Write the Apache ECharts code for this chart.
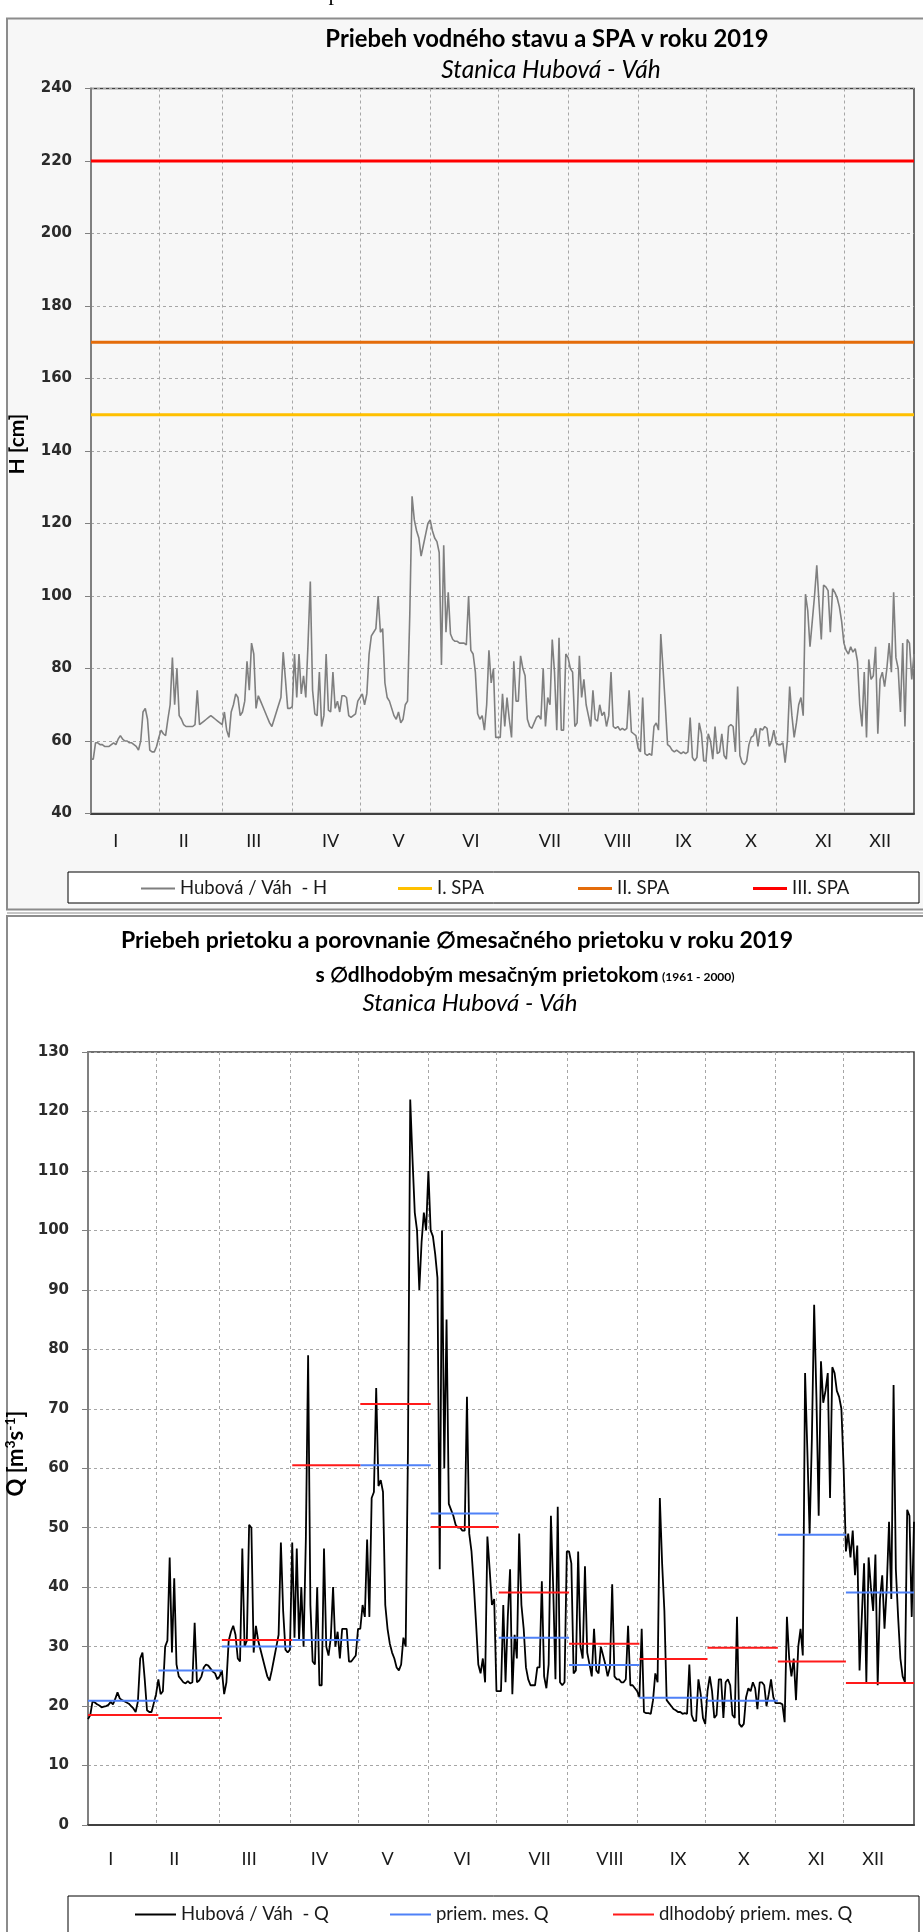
<!DOCTYPE html>
<html lang="sk">
<head>
<meta charset="utf-8" />
<title>Hubová - Váh 2019</title>
<script src="https://cdn.jsdelivr.net/npm/echarts@6/dist/echarts.min.js"></script>
<style>
  * { margin: 0; padding: 0; }
  html, body { width: 923px; height: 1932px; background: #fff; }
  #main { width: 923px; height: 1932px; }
</style>
</head>
<body>
<div id="main"></div>
<script>
// months and their lengths (2019)
const romans = ['I', 'II', 'III', 'IV', 'V', 'VI', 'VII', 'VIII', 'IX', 'X', 'XI', 'XII'];
const monthDays = [31, 28, 31, 30, 31, 30, 31, 31, 30, 31, 30, 31];

// vodný stav H [cm], denné hodnoty po mesiacoch
const hI = [55, 55, 59.5, 59.5, 59, 59, 58.5, 58.5, 58.5, 59, 59.5, 59, 60.5, 61.5, 60.5, 60, 60, 59.5, 59.5, 59, 58.5, 57.5, 60, 68, 69, 66, 57.5, 57, 57, 58.5, 61];
const hII = [63, 62, 61.5, 66, 70, 83, 70, 80, 67, 66, 64.5, 64, 64, 64, 64, 64.5, 74, 64.5, 65, 65.5, 66, 66.5, 67, 66.5, 66, 65.5, 65, 64.5];
const hIII = [68, 63, 61, 68, 70, 73, 72, 67, 68, 71, 82, 74, 87, 84, 69, 72.5, 71, 69.5, 68, 66.5, 65, 64, 66, 68, 70, 72, 84.5, 77, 69, 69, 69.5];
const hIV = [84, 72, 84, 73, 78, 72, 87, 104, 74, 67.5, 67, 79, 64, 67, 84, 68.5, 68, 79, 69, 71, 68, 72.5, 72.5, 72, 67, 66.5, 67, 67.5, 71, 72];
const hV = [73, 70, 73, 84, 89, 90, 91, 100, 90, 91, 76, 72, 71, 69, 67, 66, 68, 65, 66, 70, 71, 95, 127.5, 121, 118, 116, 111, 114, 117, 120, 121];
const hVI = [118, 116, 115, 112, 81, 114, 90, 101, 89.5, 88, 87.5, 87.5, 87, 87, 87, 86.5, 100, 85, 84, 79, 67.5, 66, 67, 63, 70, 85, 76, 80, 61, 61];
const hVII = [61, 73, 64, 72, 66, 61, 82, 71, 71, 83.5, 80, 78, 66, 64, 63.5, 65, 66.5, 67, 66, 80, 64, 72, 70, 88, 79, 63, 88.5, 63, 63, 84, 83];
const hVIII = [80, 79, 64, 65, 83.5, 72, 77, 70, 67, 64, 74, 66, 65.5, 70, 67, 68, 64, 67, 79, 64, 63.5, 64, 63, 63.5, 63, 63.5, 74, 62.5, 62, 61.5, 58];
const hIX = [57, 72, 56.5, 56, 56.5, 56, 64, 65, 63, 89.5, 80, 70, 59, 58.5, 57.5, 57, 57.5, 57, 56.5, 57, 56.5, 57, 66.5, 55.5, 54.5, 55.5, 65, 62, 54.5, 54.5];
const hX = [62, 60, 55, 64, 56.5, 57, 62, 56, 55, 64, 64.5, 64, 57, 75, 56, 54, 53.5, 54.5, 59, 61, 61.5, 63.5, 58.5, 63.5, 63, 64, 63.5, 58.5, 60, 63, 59.5];
const hXI = [59, 59, 59.5, 54, 60, 75, 67, 61, 65, 70, 72, 67, 100.5, 96, 86, 93, 100, 108.5, 98, 88, 103, 102.5, 101.5, 90, 102, 101, 99.5, 97, 93, 87];
const hXII = [85, 84, 86, 84.5, 85.5, 82, 70, 64, 79, 61, 82.5, 77, 78, 86, 62, 77, 79, 75, 80, 87, 79, 101, 83, 80, 68, 87, 64, 88, 87, 77, 84];

// prietok Q [m3/s], denné hodnoty po mesiacoch
const qI = [17.8, 18.5, 20.8, 20.6, 20.3, 20.1, 19.8, 19.9, 20, 20.2, 20.7, 20.3, 21.2, 22.3, 21.3, 21, 20.8, 20.6, 20.4, 20, 19.6, 19, 20.8, 28, 29, 24.5, 19.3, 19, 19, 20.5, 22];
const qII = [24.5, 22, 22.5, 30, 31, 45, 29, 41.5, 27, 25, 24.5, 24, 23.8, 24.2, 23.8, 24, 34, 24, 24.3, 25, 26.5, 27, 26.8, 26.3, 25.8, 25.5, 24.5, 25];
const qIII = [26, 22, 24, 31, 32.5, 33.5, 32, 28, 27.5, 46.5, 30, 31, 50.5, 50, 29, 33.5, 31, 29.5, 28, 26.5, 25, 24.3, 26, 28, 30, 32, 47.5, 36, 29.5, 29, 29.5];
const qIV = [47.5, 31.5, 46.5, 31, 40, 30, 48, 79, 37, 27.5, 27, 40, 23.5, 23.5, 46.5, 30, 28.5, 31.5, 40, 30, 32.5, 28, 33, 33, 33, 27.5, 27.5, 28, 28.5, 33];
const qV = [33, 37, 35, 48, 35, 55, 56, 73.5, 57, 58, 56, 37, 33, 30.5, 29, 28, 26.5, 26, 27, 31.5, 30, 63, 122, 112, 103, 100, 90, 98, 103, 100, 110];
const qVI = [100, 99, 96, 92, 43, 100, 60, 85, 54, 53, 52, 50.5, 50, 50, 49.5, 49.5, 72, 49, 46, 40.5, 34, 27, 25.5, 28, 24, 48.5, 43, 37, 38, 22.5];
const qVII = [22.5, 22.5, 37, 24, 35, 43, 22, 32, 28, 49, 37, 33, 26.5, 24.5, 23.5, 23.5, 23.5, 26.5, 26.5, 41, 25, 23, 27, 52, 40, 24.5, 53.5, 24, 23.5, 24, 46];
const qVIII = [46, 44, 25.5, 26, 46, 30, 28, 43.5, 29, 27, 25, 33, 26, 25.5, 30, 28.5, 27, 25, 26.5, 40.5, 25, 24.5, 24.5, 24, 24, 24.5, 33.5, 23.5, 23.5, 23, 22.5];
const qIX = [21.5, 33, 19, 18.8, 18.8, 18.7, 21, 25.5, 24, 55, 44, 36, 21, 20.5, 20, 19.5, 19.3, 19, 19, 18.7, 18.8, 18.7, 27, 18.5, 17.5, 17.5, 24.5, 22, 18, 17];
const qX = [22.5, 25, 22.5, 18, 18.5, 24.5, 24.5, 18, 24, 24.5, 23.5, 18.5, 18, 35, 17, 16.5, 17, 21.5, 23, 22.5, 24, 23, 19.5, 24, 24, 23.5, 20, 22, 24.5, 21.5, 20.5];
const qXI = [20.5, 20.5, 20.3, 17.3, 35, 28, 25, 28, 21, 30, 33, 28.5, 76, 63, 49, 65, 87.5, 72, 52, 78, 71, 73, 76, 55, 77, 76, 73, 72, 70, 60];
const qXII = [46, 49, 45, 49.5, 42, 47, 26, 35, 44, 24, 45, 40, 36, 45.5, 23.5, 38, 42, 33, 40, 51, 38, 74, 43, 35, 28, 25, 24, 53, 52, 35, 51];

// SPA levels [cm]
const spaLevels = [150, 170, 220];
// monthly mean discharge 2019 and long-term (1961 - 2000) monthly mean
const meanQ2019 = [20.9, 26, 30, 31.1, 60.5, 52.4, 31.5, 26.9, 21.4, 20.9, 48.8, 39.1];
const meanQLong = [18.5, 18, 31.1, 60.5, 70.8, 50.1, 39.1, 30.5, 27.9, 29.8, 27.5, 23.9];

// day index where each month label sits (layout)
const labelDayTop = [11, 41, 72, 106, 136, 168, 203, 233, 262, 292, 324, 349];
const labelDayBottom = [10, 38, 71, 102, 132, 165, 199, 230, 260, 289, 321, 346];

const waterLevel = [].concat(hI, hII, hIII, hIV, hV, hVI, hVII, hVIII, hIX, hX, hXI, hXII);
const discharge = [].concat(qI, qII, qIII, qIV, qV, qVI, qVII, qVIII, qIX, qX, qXI, qXII);

const days = [];
const monthEnd = [];
const monthStart = [];
monthDays.forEach(function (n, m) {
  monthStart.push(days.length);
  for (let d = 1; d <= n; d++) days.push(d + '.' + (m + 1) + '.2019');
  monthEnd.push(days.length - 1);
});
const last = days.length - 1;

// one horizontal piece per month; even / odd months go to separate series so the pieces are not joined
function monthPieces(values, parity) {
  const out = days.map(function () { return null; });
  values.forEach(function (v, m) {
    if (m % 2 !== parity) return;
    const end = Math.min(monthEnd[m] + 1, last);
    for (let i = monthStart[m]; i <= end; i++) out[i] = v;
  });
  return out;
}

const labelFont = 'Lato';
const gridColor = '#a6a6a6';

function monthAxis(gridIndex, labelDays, margin) {
  return {
    type: 'category',
    gridIndex: gridIndex,
    data: days,
    boundaryGap: false,
    axisLine: { show: true, lineStyle: { color: '#404040', width: 2 } },
    axisTick: { show: false },
    axisLabel: {
      interval: function (i) { return labelDays.indexOf(i) >= 0; },
      formatter: function (v, i) { return romans[labelDays.indexOf(i)]; },
      margin: margin,
      fontFamily: labelFont,
      fontSize: 18,
      color: '#1a1a1a',
      hideOverlap: false
    },
    splitLine: {
      show: true,
      interval: function (i) { return monthEnd.indexOf(i) >= 0 && i < last; },
      lineStyle: { color: gridColor, type: [3, 3], width: 1 }
    }
  };
}

function valueAxis(gridIndex, min, max, step, name, nameGap, namePad) {
  return {
    type: 'value',
    gridIndex: gridIndex,
    min: min,
    max: max,
    interval: step,
    name: name,
    nameLocation: 'middle',
    nameGap: nameGap,
    nameRotate: 90,
    nameTextStyle: {
      fontFamily: labelFont, fontWeight: 'bold', fontSize: 21, color: '#000',
      padding: namePad,
      rich: {
        n: { fontFamily: labelFont, fontWeight: 'bold', fontSize: 21, lineHeight: 24, color: '#000' },
        m: { fontFamily: labelFont, fontWeight: 'bold', fontSize: 22, lineHeight: 24, color: '#000' },
        s: { fontFamily: labelFont, fontWeight: 'bold', fontSize: 14, lineHeight: 14, verticalAlign: 'top', color: '#000' }
      }
    },
    axisLine: { show: true, lineStyle: { color: '#808080', width: 2 } },
    axisTick: { show: true, length: 6, lineStyle: { color: '#808080', width: 1 } },
    axisLabel: { margin: 19, fontFamily: 'DejaVu Sans', fontWeight: 'bold', fontSize: 15, color: '#2b2b2b' },
    splitLine: { show: true, lineStyle: { color: gridColor, type: [3, 3], width: 1 } }
  };
}

function lineSeries(name, data, color, width, axis) {
  return {
    name: name,
    type: 'line',
    xAxisIndex: axis,
    yAxisIndex: axis,
    data: data,
    symbol: 'none',
    color: color,
    lineStyle: { color: color, width: width },
    emphasis: { disabled: true },
    silent: true
  };
}

const legendText = { fontFamily: labelFont, fontSize: 18.5, color: '#1a1a1a' };

// one legend entry placed at its own spot inside the legend frame
function legendItem(name, left, top, thick, len) {
  return {
    data: [name], left: left, top: top, padding: 0,
    icon: 'rect', itemWidth: len, itemHeight: thick,
    selectedMode: false, textStyle: legendText
  };
}

const chart = echarts.init(document.getElementById('main'));

const option = {
  animation: false,
  backgroundColor: '#ffffff',
  graphic: [
    // panels
    { type: 'rect', z: -10, shape: { x: 7, y: 18.5, width: 940, height: 891 }, style: { fill: '#f7f7f7', stroke: '#8c8c8c', lineWidth: 2 } },
    { type: 'line', z: -10, shape: { x1: 7, y1: 913, x2: 923, y2: 913 }, style: { stroke: '#8c8c8c', lineWidth: 1 } },
    { type: 'rect', z: -10, shape: { x: 7, y: 916, width: 940, height: 1040 }, style: { fill: '#ffffff', stroke: '#8c8c8c', lineWidth: 2 } },
    // bit of the page text above the charts
    { type: 'text', z: -10, x: 334, y: -6, style: { text: 'p', font: '22px "Liberation Serif"', fill: '#000', align: 'center', verticalAlign: 'middle' } },
    // legend frames
    { type: 'rect', z: -5, shape: { x: 68, y: 872, width: 851, height: 31 }, style: { fill: '#ffffff', stroke: '#000', lineWidth: 1 } },
    { type: 'rect', z: -5, shape: { x: 68, y: 1896, width: 851, height: 40 }, style: { fill: '#ffffff', stroke: '#000', lineWidth: 1 } },
    // titles
    { type: 'text', x: 547, y: 39, style: { text: 'Priebeh vodného stavu a SPA v roku 2019', font: 'bold 23.8px Lato', fill: '#000', align: 'center', verticalAlign: 'middle' } },
    { type: 'text', x: 551, y: 70, style: { text: 'Stanica Hubová - Váh', font: 'italic 24.5px Lato', fill: '#000', align: 'center', verticalAlign: 'middle' } },
    { type: 'text', x: 457, y: 941, style: { text: 'Priebeh prietoku a porovnanie \u2205mesačného prietoku v roku 2019', font: 'bold 23px Lato', fill: '#000', align: 'center', verticalAlign: 'middle' } },
    { type: 'text', x: 525, y: 975, style: {
      text: '{b|s \u2205dlhodobým mesačným prietokom} {s|(1961 - 2000)}',
      align: 'center', verticalAlign: 'middle',
      rich: {
        b: { font: 'bold 21px Lato', fill: '#000' },
        s: { font: 'bold 12px Lato', fill: '#000', padding: [5, 0, 0, 0] }
      }
    } },
    { type: 'text', x: 470, y: 1003, style: { text: 'Stanica Hubová - Váh', font: 'italic 24px Lato', fill: '#000', align: 'center', verticalAlign: 'middle' } }
  ],
  grid: [
    { left: 91, top: 88.5, width: 823, height: 725, show: true, borderColor: '#404040', borderWidth: 1.5, backgroundColor: 'transparent', containLabel: false, outerBoundsMode: 'none' },
    { left: 88, top: 1052, width: 826, height: 773, show: true, borderColor: '#404040', borderWidth: 1.5, backgroundColor: 'transparent', containLabel: false, outerBoundsMode: 'none' }
  ],
  xAxis: [monthAxis(0, labelDayTop, 19), monthAxis(1, labelDayBottom, 25)],
  yAxis: [
    valueAxis(0, 40, 240, 20, '{n|H [cm]}', 62, [0, 0, 0, 14]),
    valueAxis(1, 0, 130, 10, '{m|Q [m}{s|3}{m|s}{s|-1}{m|]}', 55, [0, 30, 0, 0])
  ],
  legend: [
    legendItem('Hubová / Váh  - H', 141, 879, 2, 34),
    legendItem('I. SPA', 398, 879, 3, 34),
    legendItem('II. SPA', 578, 879, 3, 34),
    legendItem('III. SPA', 753, 879, 3, 34),
    legendItem('Hubová / Váh  - Q', 135, 1905, 2, 41),
    legendItem('priem. mes. Q', 390, 1905, 2, 41),
    legendItem('dlhodobý priem. mes. Q', 613, 1905, 2, 41)
  ],
  series: [
    lineSeries('Hubová / Váh  - H', waterLevel, '#7f7f7f', 1.6, 0),
    lineSeries('I. SPA', days.map(function () { return spaLevels[0]; }), '#ffc000', 3, 0),
    lineSeries('II. SPA', days.map(function () { return spaLevels[1]; }), '#e46c0a', 3, 0),
    lineSeries('III. SPA', days.map(function () { return spaLevels[2]; }), '#ff0000', 3, 0),
    lineSeries('Hubová / Váh  - Q', discharge, '#000000', 1.8, 1),
    lineSeries('priem. mes. Q', monthPieces(meanQ2019, 0), '#4f81f7', 2, 1),
    lineSeries('priem. mes. Q', monthPieces(meanQ2019, 1), '#4f81f7', 2, 1),
    lineSeries('dlhodobý priem. mes. Q', monthPieces(meanQLong, 0), '#ff1a1a', 2, 1),
    lineSeries('dlhodobý priem. mes. Q', monthPieces(meanQLong, 1), '#ff1a1a', 2, 1)
  ]
};

chart.setOption(option);
</script>
</body>
</html>
